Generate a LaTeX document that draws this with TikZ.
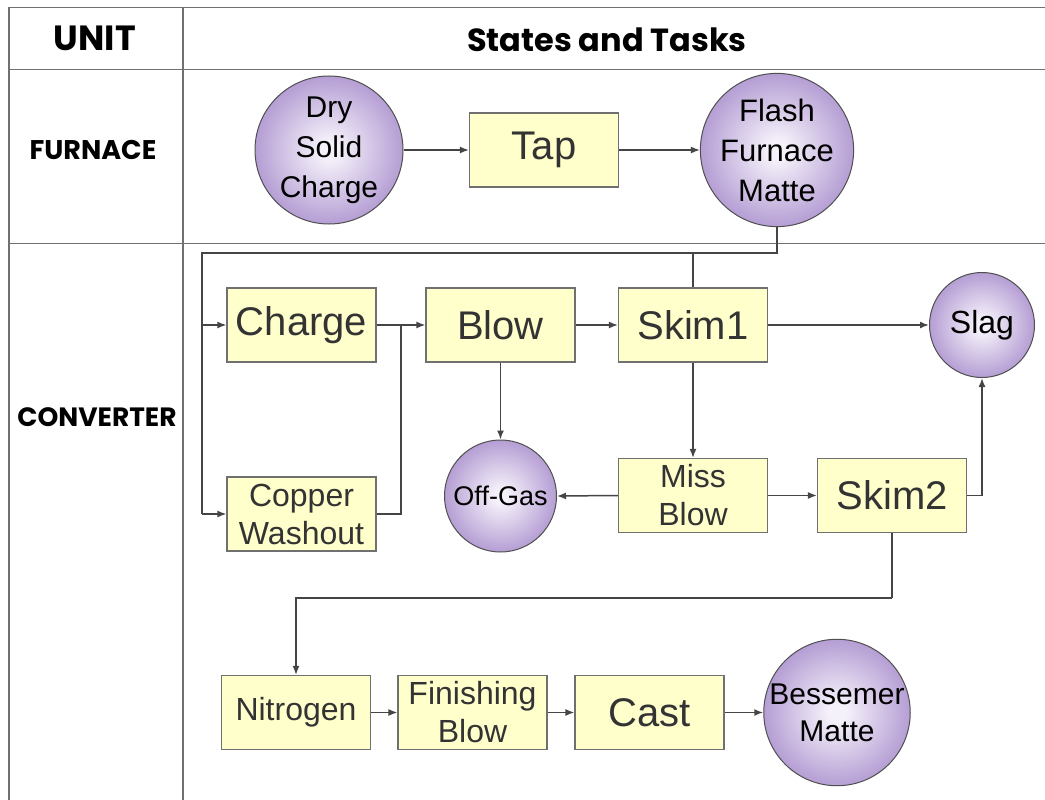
\documentclass[tikz,border=0pt]{standalone}
\usepackage{fontspec}
\setsansfont{Liberation Sans}
\newfontfamily\headfont{Poppins}
\usetikzlibrary{arrows.meta}

\definecolor{gridline}{HTML}{707070}
\definecolor{wire}{HTML}{454545}
\definecolor{boxfill}{HTML}{FFFFCC}
\definecolor{boxedge}{HTML}{707070}
\definecolor{boxtext}{HTML}{333333}
\definecolor{ballin}{HTML}{F5F1FA}
\definecolor{ballout}{HTML}{A68BCB}
\definecolor{balledge}{HTML}{505050}

\pgfdeclareradialshading{purpleball}{\pgfpoint{0bp}{0bp}}{%
  color(0bp)=(ballin); color(3bp)=(ballin); color(30bp)=(ballout); color(50bp)=(ballout)}

\newcommand{\fsz}[2]{\fontsize{#1}{#2}\selectfont}

\begin{document}
\begin{tikzpicture}[x=1pt,y=-1pt,
  task/.style={rectangle, draw=boxedge, line width=1.2pt, fill=boxfill,
    minimum width=149pt, minimum height=74pt, inner sep=0pt,
    text=boxtext, align=center, font=\sffamily\fsz{40}{44}},
  taskmid/.style={task, font=\sffamily\fsz{32}{38}},
  state/.style={circle, draw=balledge, line width=1pt, shading=purpleball,
    inner sep=0pt, text=black, align=center, font=\sffamily\fsz{31}{40}},
  conn/.style={draw=wire, line width=1.5pt},
  flow/.style={conn, -{Latex[length=9pt,width=7pt]}},
  grid/.style={draw=gridline, line width=1.8pt},
  head/.style={font=\headfont\bfseries\fsz{33}{36}, text=black},
  unitlbl/.style={font=\headfont\bfseries\fsz{27}{30}, text=black}]

\useasboundingbox (0,0) rectangle (1045,800);
\fill[white] (0,0) rectangle (1045,800);

% table frame
\draw[grid] (9,7.5) -- (1045,7.5);
\draw[grid] (9,7.5) -- (9,800);
\draw[grid] (183,7.5) -- (183,800);
\draw[grid] (9,69.5) -- (1045,69.5);
\draw[grid] (9,243.5) -- (1045,243.5);

% headings
\node[head, font=\headfont\bfseries\fsz{35}{38}] (hunit) at (95,38) {UNIT};
\node[head, font=\headfont\bfseries\fsz{32}{36}] (htask) at (607,40) {States and Tasks};
\node[unitlbl] (ufurn) at (93,150) {FURNACE};
\node[unitlbl, font=\headfont\bfseries\fsz{26.5}{30}] (uconv) at (97,417) {CONVERTER};

% furnace row
\node[state, minimum size=148pt, font=\sffamily\fsz{30}{40}] (dry) at (329,150) {Dry\\Solid\\Charge};
\node[task] (tap) at (544,150) {Tap};
\node[state, minimum size=148pt] (flash) at (777,150) {Flash\\Furnace\\Matte};

% converter states and tasks
\node[task] (charge) at (301.5,325) {Charge};
\node[task] (blow) at (500.5,325) {Blow};
\node[task] (skim1) at (693,325) {Skim1};
\node[state, minimum size=105pt, font=\sffamily\fsz{32}{36}] (slag) at (982,325) {Slag};
\node[taskmid] (copper) at (301.5,514) {Copper\\Washout};
\node[state, minimum size=112pt, font=\sffamily\fsz{27}{30}] (offgas) at (500.5,496) {Off-Gas};
\node[taskmid] (miss) at (693,495.5) {Miss\\Blow};
\node[task] (skim2) at (892,495.5) {Skim2};
\node[taskmid] (nitro) at (296,712.5) {Nitrogen};
\node[taskmid] (finish) at (472.5,712.5) {Finishing\\Blow};
\node[task] (cast) at (649.5,712.5) {Cast};
\node[state, minimum size=142pt, font=\sffamily\fsz{30}{37}] (bess) at (837,712.5) {Bessemer\\Matte};

% routing points
\coordinate (loopR) at (777,253);
\coordinate (loopL) at (202,253);
\coordinate (loopC) at (202,325);
\coordinate (loopW) at (202,514);
\coordinate (merge) at (401,325);
\coordinate (drop) at (892,598);

% furnace flow
\draw[flow] (dry.east) -- (tap.west);
\draw[flow] (tap.east) -- (flash.west);

% matte fed back to the converter charges
\draw[conn] (flash.south) -- (loopR) -- (loopL) -- (loopW);
\draw[flow] (loopW) -- (copper.west);
\draw[flow] (loopC) -- (charge.west);
\draw[conn] (skim1.north) -- (skim1.north |- loopR);

% converter flow
\draw[flow] (charge.east) -- (blow.west);
\draw[conn] (copper.east) -| (merge);
\draw[flow] (blow.east) -- (skim1.west);
\draw[flow] (blow.south) -- (offgas.north);
\draw[flow] (skim1.east) -- (slag.west);
\draw[flow] (skim1.south) -- (miss.north);
\draw[flow] (miss.west) -- (offgas.east);
\draw[flow] (miss.east) -- (skim2.west);
\draw[flow] (skim2.east) -| (slag.south);
\draw[conn] (skim2.south) -- (drop);
\draw[flow] (drop) -| (nitro.north);
\draw[flow] (nitro.east) -- (finish.west);
\draw[flow] (finish.east) -- (cast.west);
\draw[flow] (cast.east) -- (bess.west);
\end{tikzpicture}
\end{document}
